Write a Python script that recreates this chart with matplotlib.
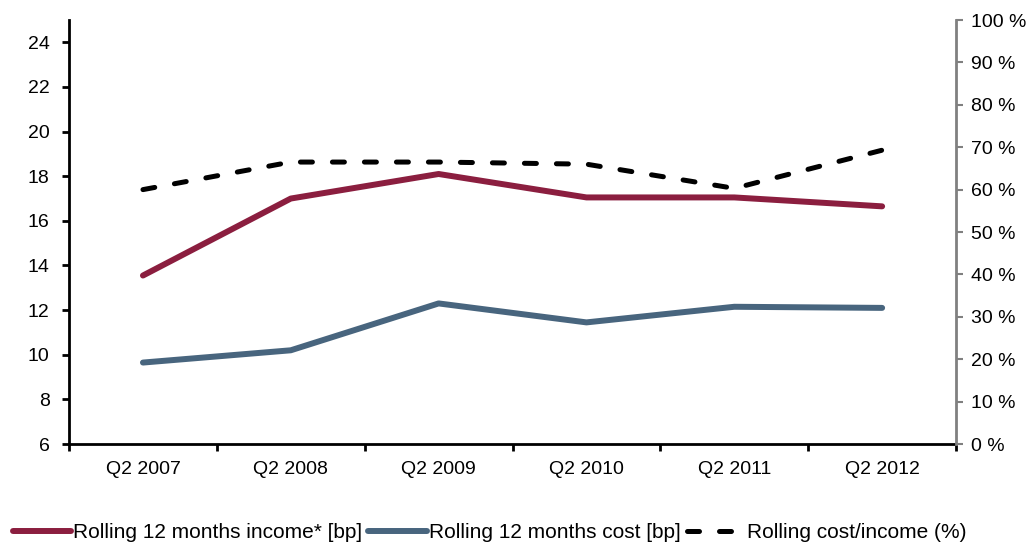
import matplotlib
matplotlib.use("Agg")
import matplotlib.pyplot as plt
from matplotlib.ticker import FixedLocator, FuncFormatter

quarters = ["Q2 2007", "Q2 2008", "Q2 2009", "Q2 2010", "Q2 2011", "Q2 2012"]
income_bp = [13.55, 17.0, 18.1, 17.05, 17.05, 16.65]
cost_bp = [9.65, 10.2, 12.3, 11.45, 12.15, 12.1]
cost_income_pct = [60.0, 66.5, 66.5, 66.0, 60.3, 69.3]

plt.rcParams["font.family"] = ["Liberation Sans", "DejaVu Sans"]
plt.rcParams["font.size"] = 14


def main():
    fig = plt.figure(figsize=(10.32, 5.44), dpi=100)
    ax = fig.add_axes([0.0669, 0.1838, 0.8595, 0.7794])
    ax2 = ax.twinx()

    x = list(range(len(quarters)))
    l1, = ax.plot(x, income_bp, color="#8B1E3F", lw=4.3, solid_capstyle="round",
                  label="Rolling 12 months income* [bp]")
    l2, = ax.plot(x, cost_bp, color="#48657E", lw=4.3, solid_capstyle="round",
                  label="Rolling 12 months cost [bp]")
    l3, = ax2.plot(x, cost_income_pct, color="black", lw=3.6, dashes=(2.4, 4.0),
                   dash_capstyle="round", label="Rolling cost/income (%)")

    ax.set_xlim(-0.5, 5.5)
    ax.set_ylim(6, 25)
    ax.set_yticks(range(6, 25, 2))
    ax2.set_ylim(0, 100)
    ax2.set_yticks(range(0, 101, 10))
    ax2.yaxis.set_major_formatter(FuncFormatter(lambda v, p: f"{v:.0f} %"))

    # category labels centred, tick marks on the category boundaries
    ax.set_xticks(x)
    ax.set_xticklabels(quarters)
    ax.tick_params(axis="x", which="major", length=0, pad=12)
    ax.xaxis.set_minor_locator(FixedLocator([i - 0.5 for i in range(len(quarters) + 1)]))
    ax.tick_params(axis="x", which="minor", length=5, width=2, direction="out",
                   color="black")
    ax.tick_params(axis="y", length=5, width=2, direction="out", pad=9)
    ax2.tick_params(axis="y", length=5, width=1.5, direction="out", color="#808080",
                    pad=6)

    for a in (ax, ax2):
        a.spines["top"].set_visible(False)
    ax.spines["right"].set_visible(False)
    ax2.spines["left"].set_visible(False)
    ax2.spines["bottom"].set_visible(False)
    ax.spines["left"].set_linewidth(2)
    ax.spines["bottom"].set_linewidth(2)
    ax2.spines["right"].set_linewidth(2)
    ax2.spines["right"].set_color("#808080")

    fig.legend(handles=[l1, l2, l3], loc="lower left", bbox_to_anchor=(0.0, -0.02),
               ncol=3, frameon=False, handlelength=2.8, handletextpad=0.1,
               columnspacing=0.3, borderaxespad=0.2, fontsize=15)

    fig.savefig("out.png", dpi=100)


if __name__ == "__main__":
    main()
